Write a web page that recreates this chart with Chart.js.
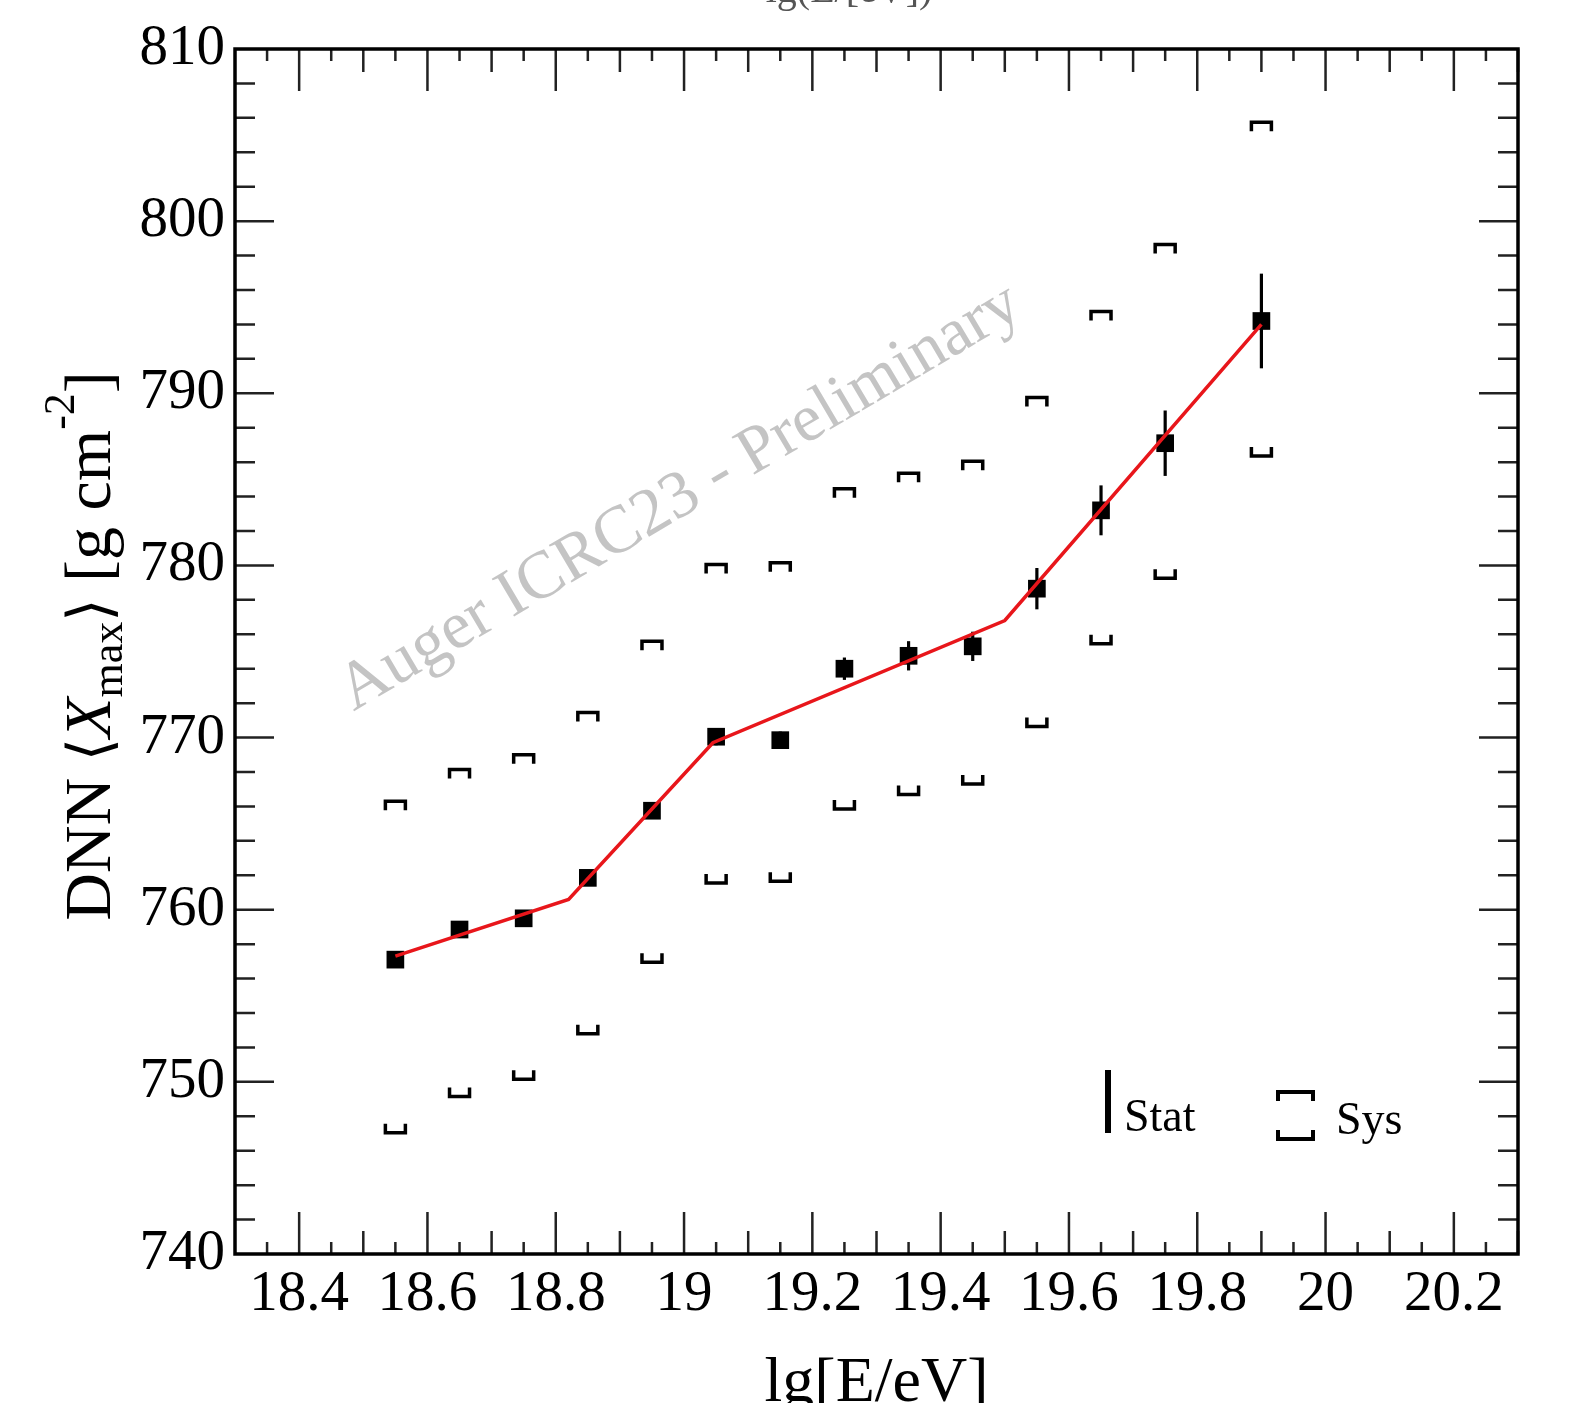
<!DOCTYPE html>
<html>
<head>
<meta charset="utf-8">
<script src="https://cdn.jsdelivr.net/npm/chart.js@4.4.0/dist/chart.umd.min.js"></script>
<style>
  body { margin: 0; background: #fff; overflow: hidden; }
  canvas { display: block; }
</style>
</head>
<body>
<canvas id="myChart" width="1590" height="1403"></canvas>
<script>
// data
const energy = [18.55, 18.65, 18.75, 18.85, 18.95, 19.05, 19.15, 19.25, 19.35, 19.45, 19.55, 19.65, 19.75, 19.9];
const xmax = [757.1, 758.85, 759.5, 761.85, 765.75, 770.05, 769.85, 774.0, 774.75, 775.3, 778.65, 783.2, 787.1, 794.2];
const statErr = [0.3, 0.3, 0.35, 0.35, 0.4, 0.5, 0.5, 0.65, 0.85, 0.85, 1.2, 1.45, 1.9, 2.75];
const sysUp = [766.3, 768.15, 769.0, 771.45, 775.6, 780.05, 780.15, 784.45, 785.35, 786.05, 789.75, 794.75, 798.65, 805.75];
const sysLow = [747.05, 749.15, 750.15, 752.8, 756.95, 761.55, 761.65, 765.85, 766.7, 767.3, 770.65, 775.45, 779.25, 786.35];

// broken line fit
const fitX = [18.55, 18.82, 19.045, 19.5, 19.9];
const fitY = [757.3, 760.6, 769.7, 776.8, 794.0];

const xTickValues = [18.4, 18.6, 18.8, 19, 19.2, 19.4, 19.6, 19.8, 20, 20.2];
const xTickLabels = ["18.4", "18.6", "18.8", "19", "19.2", "19.4", "19.6", "19.8", "20", "20.2"];
const yTickValues = [740, 750, 760, 770, 780, 790, 800, 810];
const yTickLabels = ["740", "750", "760", "770", "780", "790", "800", "810"];

const xTitle = "lg[E/eV]";
const topText = "lg(E/[eV])";
const watermark = "Auger ICRC23 - Preliminary";
const legendLabels = ["Stat", "Sys"];

const serif = "'Liberation Serif', 'Times New Roman', serif";

function bracket(ctx, px, py, dir) {
  // dir = 1 legs go down (upper sys), -1 legs go up (lower sys)
  ctx.beginPath();
  ctx.moveTo(px - 10, py + dir * 9);
  ctx.lineTo(px - 10, py);
  ctx.lineTo(px + 10, py);
  ctx.lineTo(px + 10, py + dir * 9);
  ctx.stroke();
}

function drawTicks(ctx, chart) {
  const a = chart.chartArea;
  const sx = chart.scales.x;
  const sy = chart.scales.y;
  ctx.save();
  ctx.strokeStyle = "#222";
  ctx.lineWidth = 2.5;
  ctx.beginPath();
  for (let k = 367; k <= 406; k++) {
    const px = sx.getPixelForValue(k / 20);
    let len = 12;
    if (k % 4 === 0) len = 42;
    else if (k % 2 === 0) len = 23;
    ctx.moveTo(px, a.bottom);
    ctx.lineTo(px, a.bottom - len);
    ctx.moveTo(px, a.top);
    ctx.lineTo(px, a.top + len);
  }
  for (let v = 742; v < 810; v += 2) {
    const py = sy.getPixelForValue(v);
    const len = v % 10 === 0 ? 39 : 20;
    ctx.moveTo(a.left, py);
    ctx.lineTo(a.left + len, py);
    ctx.moveTo(a.right, py);
    ctx.lineTo(a.right - len, py);
  }
  ctx.stroke();
  ctx.lineWidth = 3.5;
  ctx.strokeStyle = "#000";
  ctx.strokeRect(a.left, a.top, a.right - a.left, a.bottom - a.top);
  ctx.restore();
}

function drawYTitle(ctx) {
  const big = "66px " + serif;
  const small = "44px " + serif;
  const parts = [
    { t: "DNN ", f: big, dy: 0 },
    { t: "\u27E8", f: "60px 'DejaVu Serif', 'DejaVu Sans'", dy: 0 },
    { t: "X", f: "italic " + big, dy: 0 },
    { t: "max", f: small, dy: 12 },
    { t: "\u27E9", f: "60px 'DejaVu Serif', 'DejaVu Sans'", dy: 0 },
    { t: " [g cm", f: big, dy: 0 },
    { t: "-2", f: small, dy: -36 },
    { t: "]", f: big, dy: 0 }
  ];
  let total = 0;
  parts.forEach((p) => {
    ctx.font = p.f;
    p.w = ctx.measureText(p.t).width;
    total += p.w;
  });
  ctx.save();
  ctx.translate(110, 646 + total / 2);
  ctx.rotate(-Math.PI / 2);
  ctx.fillStyle = "#000";
  ctx.textBaseline = "alphabetic";
  ctx.textAlign = "left";
  let cx = 0;
  parts.forEach((p) => {
    ctx.font = p.f;
    ctx.fillText(p.t, cx, p.dy);
    cx += p.w;
  });
  ctx.restore();
}

const rootStyle = {
  id: "rootStyle",
  beforeDatasetsDraw(chart) {
    const ctx = chart.ctx;
    const sx = chart.scales.x;
    const sy = chart.scales.y;

    // watermark
    ctx.save();
    ctx.fillStyle = "#c4c4c4";
    ctx.font = "67px " + serif;
    ctx.textAlign = "center";
    ctx.textBaseline = "middle";
    ctx.translate(680, 498);
    ctx.rotate((-30.6 * Math.PI) / 180);
    ctx.fillText(watermark, 0, 0);
    ctx.restore();

    // stat error bars
    ctx.save();
    ctx.strokeStyle = "#000";
    ctx.lineWidth = 3.2;
    energy.forEach((e, i) => {
      const px = sx.getPixelForValue(e);
      ctx.beginPath();
      ctx.moveTo(px, sy.getPixelForValue(xmax[i] - statErr[i]));
      ctx.lineTo(px, sy.getPixelForValue(xmax[i] + statErr[i]));
      ctx.stroke();
    });

    // systematic brackets
    ctx.lineWidth = 3.5;
    energy.forEach((e, i) => {
      const px = sx.getPixelForValue(e);
      bracket(ctx, px, sy.getPixelForValue(sysUp[i]), 1);
      bracket(ctx, px, sy.getPixelForValue(sysLow[i]), -1);
    });
    ctx.restore();
  },
  afterDraw(chart) {
    const ctx = chart.ctx;
    const a = chart.chartArea;
    drawTicks(ctx, chart);

    // axis titles
    ctx.save();
    ctx.fillStyle = "#000";
    ctx.font = "64px " + serif;
    ctx.textAlign = "center";
    ctx.textBaseline = "alphabetic";
    ctx.fillText(xTitle, (a.left + a.right) / 2, 1401);
    ctx.fillStyle = "#555";
    ctx.font = "40px " + serif;
    ctx.fillText(topText, 849, 2);
    ctx.restore();
    drawYTitle(ctx);

    // legend box (bottom right)
    ctx.save();
    ctx.strokeStyle = "#000";
    ctx.fillStyle = "#000";
    ctx.lineWidth = 6;
    ctx.beginPath();
    ctx.moveTo(a.right - 410, a.bottom - 184);
    ctx.lineTo(a.right - 410, a.bottom - 121);
    ctx.stroke();
    ctx.font = "46px " + serif;
    ctx.textAlign = "left";
    ctx.fillText(legendLabels[0], a.right - 394, a.bottom - 123);
    ctx.lineWidth = 4;
    ctx.beginPath();
    ctx.moveTo(a.right - 240, a.bottom - 153);
    ctx.lineTo(a.right - 240, a.bottom - 162);
    ctx.lineTo(a.right - 205, a.bottom - 162);
    ctx.lineTo(a.right - 205, a.bottom - 153);
    ctx.moveTo(a.right - 240, a.bottom - 124);
    ctx.lineTo(a.right - 240, a.bottom - 115);
    ctx.lineTo(a.right - 205, a.bottom - 115);
    ctx.lineTo(a.right - 205, a.bottom - 124);
    ctx.stroke();
    ctx.fillText(legendLabels[1], a.right - 182, a.bottom - 120);
    ctx.restore();
  }
};

const ctx = document.getElementById("myChart").getContext("2d");
const myChart = new Chart(ctx, {
  type: "scatter",
  data: {
    datasets: [
      {
        type: "line",
        label: "fit",
        data: fitX.map((x, i) => ({ x: x, y: fitY[i] })),
        borderColor: "#e8161b",
        borderWidth: 3.5,
        pointRadius: 0,
        fill: false,
        tension: 0
      },
      {
        label: "DNN Xmax",
        data: energy.map((x, i) => ({ x: x, y: xmax[i] })),
        pointStyle: "rect",
        pointRadius: 12.5,
        backgroundColor: "#000",
        borderColor: "#000",
        borderWidth: 0
      }
    ]
  },
  options: {
    responsive: false,
    animation: false,
    layout: { padding: { top: 49, right: 72, left: 0, bottom: 0 } },
    plugins: {
      legend: { display: false },
      tooltip: { enabled: false }
    },
    scales: {
      x: {
        type: "linear",
        min: 18.3,
        max: 20.3,
        afterBuildTicks: (s) => {
          s.ticks = xTickValues.map((v) => ({ value: v }));
        },
        afterFit: (s) => {
          s.height = 149;
        },
        grid: { display: false, drawTicks: false },
        border: { display: false },
        ticks: {
          padding: 7,
          maxRotation: 0,
          autoSkip: false,
          color: "#000",
          font: { family: serif, size: 57 },
          callback: (v, i) => xTickLabels[i]
        }
      },
      y: {
        type: "linear",
        min: 740,
        max: 810,
        afterBuildTicks: (s) => {
          s.ticks = yTickValues.map((v) => ({ value: v }));
        },
        afterFit: (s) => {
          s.width = 235;
        },
        grid: { display: false, drawTicks: false },
        border: { display: false },
        ticks: {
          padding: 10,
          autoSkip: false,
          color: "#000",
          font: { family: serif, size: 57 },
          callback: (v, i) => yTickLabels[i]
        }
      }
    }
  },
  plugins: [rootStyle]
});
</script>
</body>
</html>
